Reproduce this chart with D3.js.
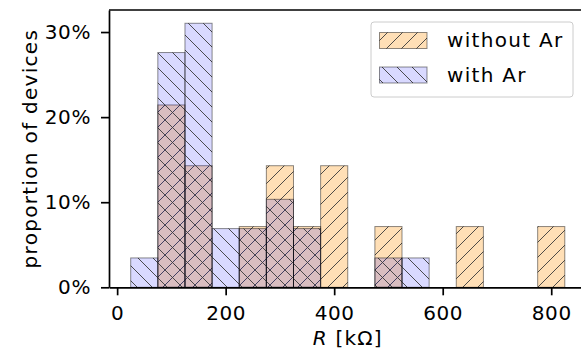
<!DOCTYPE html>
<html>
<head>
<meta charset="utf-8">
<script src="https://cdn.jsdelivr.net/npm/d3@7"></script>
<style>
  body { margin: 0; background: #fff; }
  svg { display: block; font-family: "DejaVu Sans", sans-serif; }
</style>
</head>
<body>
<svg width="581" height="355"></svg>
<script>
// histogram bins (left edges, kΩ), each 50 kΩ wide
var binLefts = [25, 75, 125, 175, 225, 275, 325, 375, 425, 475, 525, 575, 625, 675, 725, 775];
var binWidth = 50;
// proportion of devices in %
var withoutAr = [0, 21.43, 14.29, 0, 7.14, 14.29, 7.14, 14.29, 0, 7.14, 0, 0, 7.14, 0, 0, 7.14];
var withAr    = [3.45, 27.59, 31.03, 6.90, 6.90, 10.34, 6.90, 0, 0, 3.45, 3.45, 0, 0, 0, 0, 0];
var xTicks = [0, 200, 400, 600, 800];
var yTicks = [0, 10, 20, 30];
var seriesNames = ["without Ar", "with Ar"];

var svg = d3.select("svg"),
    width = +svg.attr("width"),
    height = +svg.attr("height");

svg.append("rect").attr("width", width).attr("height", height).attr("fill", "#fff");

var plotL = 109, plotR = 586.5, plotT = 10, plotB = 287.3;

var x = d3.scaleLinear().domain([-15, 865]).range([plotL, plotR]);
var y = d3.scaleLinear().domain([0, 32.59]).range([plotB, plotT]);

// hatch patterns, aligned to the page like matplotlib
var s = 15;
var defs = svg.append("defs");
function hatch(id, dir) {
  var p = defs.append("pattern")
      .attr("id", id)
      .attr("patternUnits", "userSpaceOnUse")
      .attr("width", s).attr("height", s);
  var d = dir > 0
    ? "M0," + s + "L" + s + ",0 M-2,2L2,-2 M" + (s - 2) + "," + (s + 2) + "L" + (s + 2) + "," + (s - 2)
    : "M0,0L" + s + "," + s + " M-2," + (s - 2) + "L2," + (s + 2) + " M" + (s - 2) + ",-2L" + (s + 2) + ",2";
  p.append("path").attr("d", d).attr("stroke", "#3a3a3a").attr("stroke-width", 0.9).attr("fill", "none");
}
hatch("ne", 1);
hatch("nw", -1);

var orangeFill = "#ffdfb6",
    blueFill = "rgba(0,0,255,0.15)",
    edge = "rgba(0,0,0,0.45)";

var clip = defs.append("clipPath").attr("id", "plot");
clip.append("rect").attr("x", plotL).attr("y", plotT).attr("width", plotR - plotL).attr("height", plotB - plotT);

var g = svg.append("g").attr("clip-path", "url(#plot)");

function drawBars(values, fill, pat) {
  var data = binLefts.map(function(b, i) { return { x0: b, v: values[i] }; })
    .filter(function(d) { return d.v > 0; });
  var grp = g.append("g");
  grp.selectAll("rect.f")
    .data(data)
    .enter().append("rect")
      .attr("x", function(d) { return x(d.x0); })
      .attr("y", function(d) { return y(d.v); })
      .attr("width", function(d) { return x(d.x0 + binWidth) - x(d.x0); })
      .attr("height", function(d) { return y(0) - y(d.v); })
      .attr("fill", fill);
  grp.selectAll("rect.h")
    .data(data)
    .enter().append("rect")
      .attr("x", function(d) { return x(d.x0); })
      .attr("y", function(d) { return y(d.v); })
      .attr("width", function(d) { return x(d.x0 + binWidth) - x(d.x0); })
      .attr("height", function(d) { return y(0) - y(d.v); })
      .attr("fill", "url(#" + pat + ")")
      .attr("stroke", edge)
      .attr("stroke-width", 1);
}
drawBars(withoutAr, orangeFill, "ne");
drawBars(withAr, blueFill, "nw");

// axes
var xAxis = svg.append("g")
    .attr("transform", "translate(0," + plotB + ")")
    .call(d3.axisBottom(x).tickValues(xTicks).tickFormat(d3.format("d"))
      .tickSize(8).tickSizeOuter(0).tickPadding(11));
var yAxis = svg.append("g")
    .attr("transform", "translate(" + plotL + ",0)")
    .call(d3.axisLeft(y).tickValues(yTicks).tickFormat(function(d) { return d + "%"; })
      .tickSize(8).tickSizeOuter(0).tickPadding(10));

[xAxis, yAxis].forEach(function(a) {
  a.select(".domain").attr("stroke", "#000").attr("stroke-width", 1.7);
  a.selectAll(".tick line").attr("stroke", "#000").attr("stroke-width", 1.7);
  a.selectAll(".tick text").attr("fill", "#000")
    .style("font-size", "20px").style("letter-spacing", "0.6px")
    .style("font-family", "DejaVu Sans, sans-serif");
});

// top spine
svg.append("line")
    .attr("x1", plotL).attr("x2", plotR).attr("y1", plotT).attr("y2", plotT)
    .attr("stroke", "#000").attr("stroke-width", 1.7);

// axis labels
var xl = svg.append("text")
    .attr("x", (plotL + plotR) / 2)
    .attr("y", 344.5)
    .attr("text-anchor", "middle")
    .style("font-size", "20px")
    .style("letter-spacing", "1.2px");
xl.append("tspan").style("font-style", "italic").text("R");
xl.append("tspan").text(" [kΩ]");

svg.append("text")
    .attr("transform", "translate(37," + ((plotT + plotB) / 2) + ") rotate(-90)")
    .attr("text-anchor", "middle")
    .style("font-size", "20px")
    .style("letter-spacing", "1.3px")
    .text("proportion of devices");

// legend
var legend = svg.append("g");
legend.append("rect")
    .attr("x", 371).attr("y", 22)
    .attr("width", 202).attr("height", 75)
    .attr("rx", 3)
    .attr("fill", "rgba(255,255,255,0.8)")
    .attr("stroke", "#cccccc")
    .attr("stroke-width", 1);

var legendItems = [
  { name: seriesNames[0], fill: orangeFill, pat: "ne", y: 32.5, ty: 47.3 },
  { name: seriesNames[1], fill: blueFill, pat: "nw", y: 67, ty: 81.7 }
];
legendItems.forEach(function(it) {
  legend.append("rect")
    .attr("x", 379.5).attr("y", it.y).attr("width", 47.5).attr("height", 16)
    .attr("fill", it.fill);
  legend.append("rect")
    .attr("x", 379.5).attr("y", it.y).attr("width", 47.5).attr("height", 16)
    .attr("fill", "url(#" + it.pat + ")")
    .attr("stroke", edge);
  legend.append("text")
    .attr("x", 447).attr("y", it.ty)
    .style("font-size", "20px")
    .style("letter-spacing", "1.3px")
    .text(it.name);
});
</script>
</body>
</html>
